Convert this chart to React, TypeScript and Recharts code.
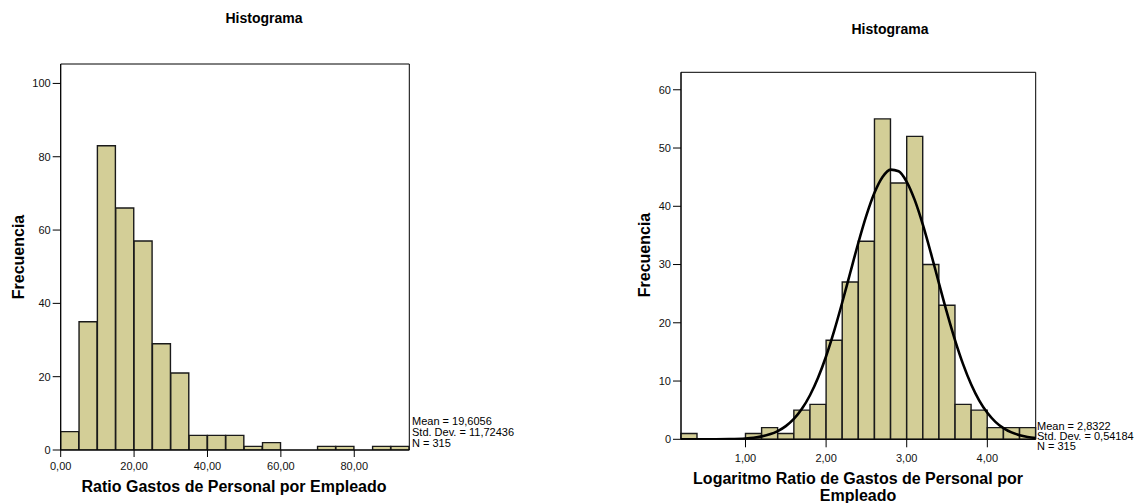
import React from 'react';
import { ComposedChart, Bar, Line, XAxis, YAxis, ReferenceArea } from 'recharts';

// ---------- Left histogram: Ratio Gastos de Personal por Empleado ----------
const leftBinStarts = [0, 5, 10, 15, 20, 25, 30, 35, 40, 45, 50, 55, 60, 65, 70, 75, 80, 85, 90];
const leftBinWidth = 5;
const leftCounts = [5, 35, 83, 66, 57, 29, 21, 4, 4, 4, 1, 2, 0, 0, 1, 1, 0, 1, 1];
const leftXDomain = [0, 95];
const leftXTicks = [0, 20, 40, 60, 80];
const leftXTickLabels = ['0,00', '20,00', '40,00', '60,00', '80,00'];
const leftYDomain = [0, 105.3];
const leftYTicks = [0, 20, 40, 60, 80, 100];
const leftStats = ['Mean = 19,6056', 'Std. Dev. = 11,72436', 'N = 315'];

// ---------- Right histogram: Logaritmo Ratio ----------
const rightBinStarts = [
  0.2, 0.4, 0.6, 0.8, 1.0, 1.2, 1.4, 1.6, 1.8, 2.0, 2.2, 2.4, 2.6, 2.8, 3.0, 3.2, 3.4, 3.6,
  3.8, 4.0, 4.2, 4.4,
];
const rightBinWidth = 0.2;
const rightCounts = [1, 0, 0, 0, 1, 2, 1, 5, 6, 17, 27, 34, 55, 44, 52, 30, 23, 6, 5, 2, 2, 2];
const rightXDomain = [0.2, 4.6];
const rightXTicks = [1, 2, 3, 4];
const rightXTickLabels = ['1,00', '2,00', '3,00', '4,00'];
const rightYDomain = [0, 63];
const rightYTicks = [0, 10, 20, 30, 40, 50, 60];
const rightStats = ['Mean = 2,8322', 'Std. Dev. = 0,54184', 'N = 315'];

// Normal curve
const curveX = [
  0.2, 0.4, 0.6, 0.8, 1.0, 1.1, 1.2, 1.3, 1.4, 1.5, 1.6, 1.7, 1.8, 1.9, 2.0, 2.1, 2.2, 2.3,
  2.4, 2.5, 2.6, 2.7, 2.8, 2.9, 3.0, 3.1, 3.2, 3.3, 3.4, 3.5, 3.6, 3.7, 3.8, 3.9, 4.0, 4.1,
  4.2, 4.3, 4.4, 4.5, 4.6,
];
const curveY = [
  0.0, 0.0, 0.01, 0.04, 0.15, 0.28, 0.5, 0.85, 1.41, 2.26, 3.49, 5.23, 7.56, 10.56, 14.26,
  18.61, 23.48, 28.63, 33.74, 38.43, 42.31, 45.02, 46.3, 46.02, 44.21, 41.05, 36.84, 31.95,
  26.78, 21.7, 16.99, 12.86, 9.41, 6.65, 4.55, 3.0, 1.92, 1.18, 0.7, 0.41, 0.23,
];

const FONT = '"Liberation Sans", Arial, Helvetica, sans-serif';
const BAR_FILL = '#d3ce97';

const leftData = leftBinStarts.map((s, i) => ({ bin: `b${i}`, x: s + leftBinWidth / 2, count: leftCounts[i] }));
const rightData = rightBinStarts.map((s, i) => ({ bin: `b${i}`, x: s + rightBinWidth / 2, count: rightCounts[i] }));
const curveData = curveX.map((x, i) => ({ x, y: curveY[i] }));

const tickStyle = { fontSize: 11, fill: '#111', fontFamily: FONT };
const axisStroke = { stroke: '#000', strokeWidth: 1 };

const abs = (left: number, top: number, extra: React.CSSProperties = {}): React.CSSProperties => ({
  position: 'absolute',
  left,
  top,
  fontFamily: FONT,
  color: '#000',
  whiteSpace: 'nowrap',
  ...extra,
});

function fmt(ticks: number[], labels: string[]) {
  return (v: number) => {
    const i = ticks.indexOf(v);
    return i >= 0 ? labels[i] : String(v);
  };
}

export default function App() {
  return (
    <div style={{ position: 'absolute', left: 0, top: 0, width: 1147, height: 503, background: '#fff', overflow: 'hidden' }}>
      {/* Left chart */}
      <div style={{ position: 'absolute', left: 0, top: 0 }}>
        <ComposedChart
          width={420}
          height={503}
          data={leftData}
          barCategoryGap={0}
          barGap={0}
          margin={{ top: 64, right: 10.7, bottom: 0, left: 0 }}
        >
          <XAxis
            xAxisId="num"
            dataKey="x"
            type="number"
            domain={leftXDomain}
            ticks={leftXTicks}
            tickFormatter={fmt(leftXTicks, leftXTickLabels)}
            allowDataOverflow
            height={53}
            tickSize={7}
            tickMargin={5}
            tick={tickStyle}
            axisLine={axisStroke}
            tickLine={axisStroke}
            interval={0}
          />
          <XAxis xAxisId="bins" dataKey="bin" type="category" hide height={0} />
          <YAxis
            yAxisId="left"
            type="number"
            domain={leftYDomain}
            ticks={leftYTicks}
            allowDataOverflow
            width={60.7}
            tickSize={8}
            tick={tickStyle}
            axisLine={axisStroke}
            tickLine={axisStroke}
            interval={0}
          />
          <Bar
            xAxisId="bins"
            yAxisId="left"
            dataKey="count"
            fill={BAR_FILL}
            stroke="#1a1a1a"
            strokeWidth={1.4}
            isAnimationActive={false}
          />
          <ReferenceArea
            xAxisId="num"
            yAxisId="left"
            x1={leftXDomain[0]}
            x2={leftXDomain[1]}
            y1={leftYDomain[0]}
            y2={leftYDomain[1]}
            fill="none"
            fillOpacity={0}
            stroke="#000"
            strokeWidth={1}
            ifOverflow="visible"
          />
        </ComposedChart>
      </div>

      {/* Right chart */}
      <div style={{ position: 'absolute', left: 620, top: 0 }}>
        <ComposedChart
          width={420}
          height={503}
          data={rightData}
          barCategoryGap={0}
          barGap={0}
          margin={{ top: 72.3, right: 4.3, bottom: 0, left: 0 }}
        >
          <XAxis
            xAxisId="num"
            dataKey="x"
            type="number"
            domain={rightXDomain}
            ticks={rightXTicks}
            tickFormatter={fmt(rightXTicks, rightXTickLabels)}
            allowDataOverflow
            height={63.7}
            tickSize={8}
            tickMargin={7}
            tick={tickStyle}
            axisLine={axisStroke}
            tickLine={axisStroke}
            interval={0}
          />
          <XAxis xAxisId="bins" dataKey="bin" type="category" hide height={0} />
          <YAxis
            yAxisId="left"
            type="number"
            domain={rightYDomain}
            ticks={rightYTicks}
            allowDataOverflow
            width={61}
            tickSize={8}
            tick={tickStyle}
            axisLine={axisStroke}
            tickLine={axisStroke}
            interval={0}
          />
          <Bar
            xAxisId="bins"
            yAxisId="left"
            dataKey="count"
            fill={BAR_FILL}
            stroke="#1a1a1a"
            strokeWidth={1.4}
            isAnimationActive={false}
          />
          <Line
            xAxisId="num"
            yAxisId="left"
            data={curveData}
            dataKey="y"
            type="monotone"
            stroke="#000"
            strokeWidth={2.6}
            dot={false}
            activeDot={false}
            isAnimationActive={false}
          />
          <ReferenceArea
            xAxisId="num"
            yAxisId="left"
            x1={rightXDomain[0]}
            x2={rightXDomain[1]}
            y1={rightYDomain[0]}
            y2={rightYDomain[1]}
            fill="none"
            fillOpacity={0}
            stroke="#000"
            strokeWidth={1}
            ifOverflow="visible"
          />
        </ComposedChart>
      </div>

      {/* Titles */}
      <div style={abs(264, 18, { transform: 'translate(-50%,-50%)', fontSize: 14, fontWeight: 'bold' })}>Histograma</div>
      <div style={abs(890, 29, { transform: 'translate(-50%,-50%)', fontSize: 14, fontWeight: 'bold' })}>Histograma</div>

      {/* Y labels */}
      <div style={abs(19, 257, { transform: 'translate(-50%,-50%) rotate(-90deg)', fontSize: 16, fontWeight: 'bold' })}>Frecuencia</div>
      <div style={abs(645, 255, { transform: 'translate(-50%,-50%) rotate(-90deg)', fontSize: 16, fontWeight: 'bold' })}>Frecuencia</div>

      {/* X labels */}
      <div style={abs(234, 487, { transform: 'translate(-50%,-50%)', fontSize: 16, fontWeight: 'bold' })}>
        Ratio Gastos de Personal por Empleado
      </div>
      <div style={abs(858, 486.5, { transform: 'translate(-50%,-50%)', fontSize: 16, fontWeight: 'bold', textAlign: 'center', lineHeight: '17px' })}>
        Logaritmo Ratio de Gastos de Personal por
        <br />
        Empleado
      </div>

      {/* Stats */}
      <div style={abs(412, 415.5, { fontSize: 11, lineHeight: '11px' })}>
        {leftStats.map((s) => (
          <div key={s}>{s}</div>
        ))}
      </div>
      <div style={abs(1037, 420.5, { fontSize: 11, lineHeight: '10px' })}>
        {rightStats.map((s) => (
          <div key={s}>{s}</div>
        ))}
      </div>
    </div>
  );
}
